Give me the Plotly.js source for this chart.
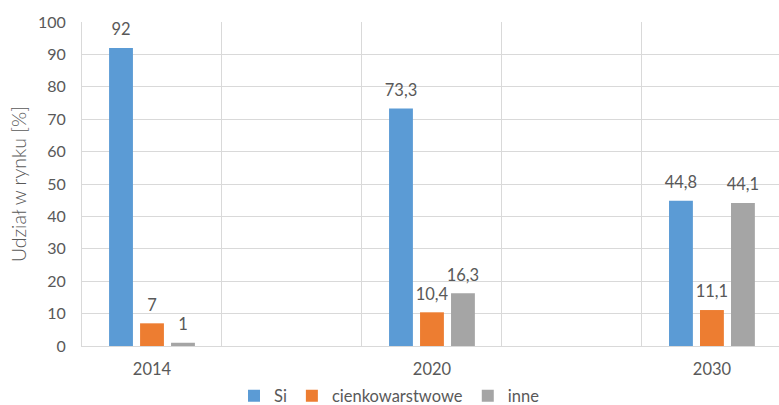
<!DOCTYPE html>
<html>
<head>
<meta charset="utf-8">
<script src="https://cdn.plot.ly/plotly-3.0.1.min.js"></script>
<style>html,body{margin:0;padding:0;background:#fff;}#chart{width:779px;height:405px;}</style>
</head>
<body>
<div id="chart"></div>
<script>
const categories = ['2014', '2020', '2030'];
const axisSlots = ['2014', ' ', '2020', '  ', '2030'];
const seriesNames = ['Si', 'cienkowarstwowe', 'inne'];
const siValues = [92, 73.3, 44.8];
const thinFilmValues = [7, 10.4, 11.1];
const otherValues = [1, 16.3, 44.1];
const seriesColors = ['#5B9BD5', '#ED7D31', '#A5A5A5'];
const yTicks = [0, 10, 20, 30, 40, 50, 60, 70, 80, 90, 100];

const allValues = [siValues, thinFilmValues, otherValues];
const fmt = v => String(v).replace('.', ',');
const FONT = 'Lato, "Open Sans", sans-serif';
const TXT = '#595959';

const traces = [];
allValues.forEach((vals, i) => {
  traces.push({
    type: 'bar', name: seriesNames[i], x: categories, y: vals,
    marker: {color: seriesColors[i]}, hoverinfo: 'skip'
  });
});
allValues.forEach((vals, i) => {
  traces.push({
    type: 'scatter', mode: 'text+markers', showlegend: false, x: categories, y: vals,
    text: vals.map(fmt), textposition: 'top center',
    textfont: {family: FONT, size: 16.5, color: TXT},
    marker: {size: 12, color: 'rgba(0,0,0,0)'}, hoverinfo: 'skip', cliponaxis: false
  });
});

const layout = {
  width: 779, height: 405,
  margin: {l: 82, r: 0, t: 22, b: 59},
  paper_bgcolor: '#fff', plot_bgcolor: '#fff',
  font: {family: FONT, size: 15, color: TXT},
  barmode: 'group', bargap: 0.336, bargroupgap: 0.23,
  scattermode: 'group', scattergap: 0.336,
  showlegend: true,
  legend: {orientation: 'h', x: 0.5, xanchor: 'center', xref: 'container', y: 0.022, yanchor: 'middle', yref: 'container',
           font: {family: FONT, size: 16.5, color: TXT}, traceorder: 'normal', itemwidth: 30},
  xaxis: {
    type: 'category', categoryorder: 'array', categoryarray: axisSlots,
    range: [-0.5, 4.479], tickson: 'boundaries', showgrid: true, gridcolor: '#D9D9D9', gridwidth: 1,
    showline: true, linecolor: '#D9D9D9', linewidth: 1, ticks: '', ticklabelstandoff: 8,
    tickfont: {family: FONT, size: 16.5, color: TXT}, zeroline: false, fixedrange: true, automargin: false
  },
  yaxis: {
    range: [0, 100], tickvals: yTicks, ticktext: yTicks.map(String),
    showgrid: true, gridcolor: '#D9D9D9', gridwidth: 1, zeroline: false,
    showline: true, linecolor: '#D9D9D9', linewidth: 1, ticks: '', ticklabelstandoff: 12,
    tickfont: {family: FONT, size: 16, color: TXT},
    title: {text: 'Udział w rynku [%]', font: {family: FONT, size: 19.5, color: TXT, weight: 300}, standoff: 6},
    fixedrange: true, automargin: false
  }
};

Plotly.newPlot('chart', traces, layout, {staticPlot: true, displayModeBar: false});
</script>
</body>
</html>
